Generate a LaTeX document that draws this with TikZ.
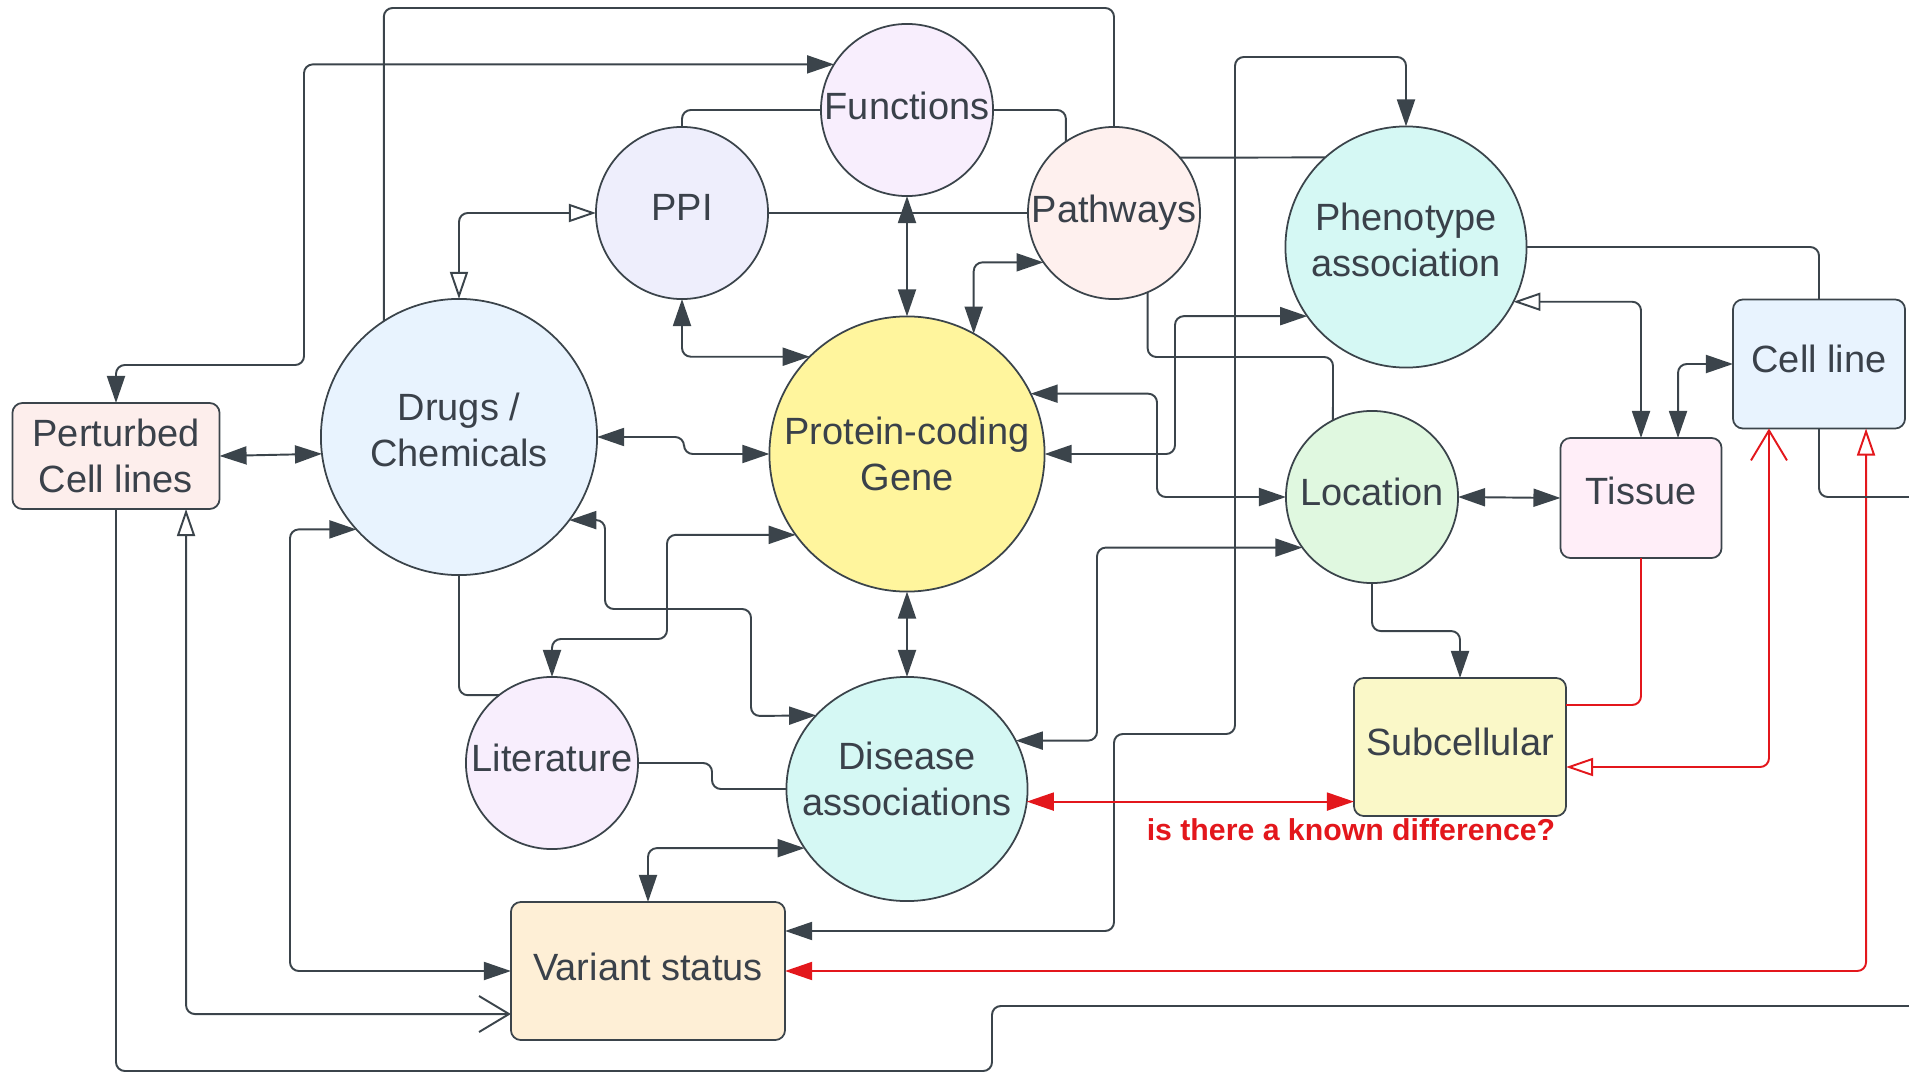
\documentclass[tikz,border=0pt]{standalone}
\usepackage{fontspec}
\setmainfont{Liberation Sans}
\usetikzlibrary{arrows.meta,shapes.geometric}

\definecolor{linec}{HTML}{3B444B}
\definecolor{txtc}{HTML}{3A414A}
\definecolor{redc}{HTML}{E3171C}
\definecolor{pertc}{HTML}{FDEEEC}
\definecolor{drugsc}{HTML}{E8F3FE}
\definecolor{ppic}{HTML}{EEEEFC}
\definecolor{funcc}{HTML}{F8EEFD}
\definecolor{pathc}{HTML}{FEF0EE}
\definecolor{genec}{HTML}{FFF59D}
\definecolor{phenoc}{HTML}{D5F8F4}
\definecolor{locc}{HTML}{E0F8E0}
\definecolor{tissuec}{HTML}{FFEEF8}
\definecolor{subcellc}{HTML}{FAF8C8}
\definecolor{varc}{HTML}{FEEFD6}

\newcommand\bubblefont{\fontsize{10.8}{13}\selectfont}

\tikzset{
  tri/.tip={Triangle[length=2.7mm,width=1.8mm]},
  otri/.tip={Triangle[open,length=2.7mm,width=1.8mm]},
  barb/.tip={Straight Barb[length=3mm,width=3.6mm]},
  bubble/.style={circle, draw=linec, line width=0.5pt, inner sep=0pt, outer sep=0pt, text=txtc, align=center, font=\bubblefont},
  box/.style={rectangle, rounded corners=1mm, draw=linec, line width=0.5pt, inner sep=0pt, outer sep=0pt, text=txtc, align=center, font=\bubblefont},
  link/.style={draw=linec, line width=0.55pt, rounded corners=2.5pt},
  redlink/.style={link, draw=redc},
  dbl/.style={link, tri-tri}
}

\begin{document}
\begin{tikzpicture}[x=0.01cm, y=-0.01cm]
  \useasboundingbox (0,0) rectangle (1909,1073);
  \node[box, fill=pertc, minimum width=2.07cm, minimum height=1.06cm] (pert) at (116,456) {Perturbed\\Cell lines};
  \node[bubble, fill=drugsc, minimum size=2.76cm, text depth=1.4mm] (drugs) at (459,437) {Drugs /\\Chemicals};
  \node[bubble, fill=ppic, minimum size=1.72cm, text depth=1.2mm] (ppi) at (682,213) {PPI};
  \node[bubble, fill=funcc, minimum size=1.72cm, text depth=0.8mm] (func) at (907,110) {Functions};
  \node[bubble, fill=pathc, minimum size=1.72cm] (path) at (1114,213) {Pathways};
  \node[bubble, fill=genec, minimum size=2.75cm] (gene) at (907,454) {Protein-coding\\Gene};
  \node[bubble, fill=phenoc, minimum size=2.41cm, text depth=1.4mm] (pheno) at (1406,247) {Phenotype\\association};
  \node[bubble, fill=locc, minimum size=1.72cm, text depth=1mm] (loc) at (1372,497) {Location};
  \node[box, fill=tissuec, minimum width=1.61cm, minimum height=1.2cm, text depth=1.4mm] (tissue) at (1641,498) {Tissue};
  \node[box, fill=drugsc, minimum width=1.72cm, minimum height=1.29cm, text depth=1mm] (cell) at (1819,364) {Cell line};
  \node[box, fill=subcellc, minimum width=2.12cm, minimum height=1.38cm, text depth=1mm] (subcell) at (1460,747) {Subcellular};
  \node[bubble, fill=funcc, minimum size=1.72cm, text depth=1mm] (lit) at (552,763) {Literature};
  \node[ellipse, draw=linec, line width=0.5pt, fill=phenoc, inner sep=0pt, outer sep=0pt, minimum width=2.41cm, minimum height=2.24cm,
    label={[text=txtc, font=\bubblefont, align=center, text depth=2mm]center:{Disease\\associations}}] (dis) at (907,789) {};
  \node[box, fill=varc, minimum width=2.74cm, minimum height=1.38cm, text depth=0.8mm] (var) at (648,971) {Variant status};
  \node[text=redc, font=\bfseries\fontsize{8.6}{10}\selectfont] (q) at (1351,830) {is there a known difference?};
  \coordinate (offS) at (1909,1006);
  \coordinate (offE) at (1909,497);

  \draw[dbl] (pert.east) -- (drugs.187);
  \draw[dbl] (pert.north) |- (304,365) |- (func.148);
  \draw[link] (pert.south) |- (992,1071) |- (offS);
  \draw[link, otri-barb] ([xshift=7mm]pert.south) |- ([yshift=-4.3mm]var.west);
  \draw[link, otri-otri] (drugs.north) |- (ppi.west);
  \draw[link] (drugs.123) |- (1114,8) -- (path.north);
  \draw[dbl] (drugs.east) -- (684,437) |- (gene.west);
  \draw[dbl] (drugs.222) -| (290,900) |- (var.west);
  \draw[dbl] (drugs.323) -| (605,609) -| (751,716) -- (dis.141);
  \draw[link] (drugs.south) |- (lit.128);
  \draw[dbl] (gene.216) -| (667,639) -| (lit.north);
  \draw[link] (lit.east) -- (712,763) |- (dis.west);
  \draw[dbl] (ppi.south) |- (gene.135);
  \draw[dbl] (func.south) -- (gene.north);
  \draw[dbl] (gene.61) |- (path.215);
  \draw[link] (ppi.east) -- (path.west);
  \draw[link] (ppi.north) |- (func.west);
  \draw[link] (func.east) -| (path.124);
  \draw[link] (path.40) -- (pheno.132);
  \draw[link] (path.293) |- (1333,357) -- (loc.117);
  \draw[dbl] (gene.26) -| (1157,450) |- (loc.west);
  \draw[dbl] (gene.east) -- (1175,454) |- (pheno.215);
  \draw[dbl] (dis.24) -| (1097,600) |- (loc.216);
  \draw[dbl] (gene.south) -- (dis.north);
  \draw[dbl] (var.north) |- (dis.210);
  \draw[dbl] (pheno.north) |- (1235,57) |- (1114,734) |- ([yshift=4mm]var.east);
  \draw[redlink, tri-tri] (dis.354) -- (dis.354 -| subcell.west);
  \draw[redlink, tri-otri] (var.east) -| ([xshift=4.7mm]cell.south);
  \draw[redlink, barb-otri] ([xshift=-5mm]cell.south) |- ([yshift=-2mm]subcell.east);
  \draw[redlink] (tissue.south) |- ([yshift=4.2mm]subcell.east);
  \draw[dbl] (loc.east) -- (tissue.west);
  \draw[link, -tri] (loc.south) -- ++(0,48) -| (subcell.north);
  \draw[link, otri-tri] (pheno.333) -| (tissue.north);
  \draw[dbl] ([xshift=3.7mm]tissue.north) |- (cell.west);
  \draw[link] (pheno.east) -| (cell.north);
  \draw[link] (cell.south) |- (offE);
\end{tikzpicture}
\end{document}
